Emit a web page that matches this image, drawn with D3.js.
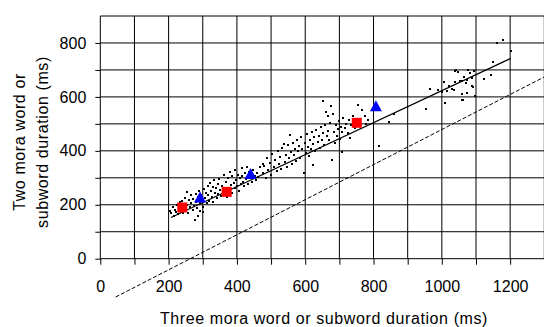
<!DOCTYPE html>
<html>
<head>
<meta charset="utf-8">
<script src="https://cdn.jsdelivr.net/npm/d3@7"></script>
<style>
  body { margin: 0; background: #fff; }
  text { font-family: "Liberation Sans", Arial, sans-serif; fill: #000; }
</style>
</head>
<body>
<div id="chart"></div>
<script>
var width = 544, height = 327;

// axis ticks (ms)
var xTicks = [0, 200, 400, 600, 800, 1000, 1200];
var yTicks = [0, 200, 400, 600, 800];

// individual word / subword pairs [three mora, two mora]
var dots = [
  [205,178],[208,168],[212,190],[215,160],[218,182],[222,172],[225,200],[228,165],[230,185],[233,210],
  [236,175],[238,195],[240,215],[243,170],[245,188],[248,225],[250,180],[253,248],[255,200],[258,170],
  [260,218],[262,190],[265,235],[267,205],[270,180],[272,222],[275,195],[277,143],[279,240],[281,210],
  [283,188],[285,228],[287,160],[289,250],[291,205],[293,178],[296,238],[298,215],[300,192],
  [302,174],[304,260],[306,225],[309,245],[311,205],[314,270],[316,235],[319,215],[321,282],[324,250],
  [326,228],[329,265],[331,212],[334,290],[336,245],[339,262],[341,225],[344,278],[346,240],[349,295],
  [351,255],[354,232],[357,270],[359,248],
  [362,310],[364,236],[367,285],[369,262],[372,230],[375,298],[377,255],[380,320],[382,272],[385,245],
  [387,305],[390,282],[393,262],[395,330],[398,290],[400,268],[403,312],[405,250],[408,298],[411,278],
  [414,335],[416,305],[419,285],[421,268],[424,318],[427,295],[430,340],[432,278],[436,322],[439,300],
  [443,285],[447,330],[452,305],[455,290],[458,318],[462,304],[468,341],[477,353],
  [475,318],[480,345],[484,300],[488,372],[492,330],[497,355],[500,310],[504,390],[508,340],[512,365],
  [516,325],[519,400],[522,350],[526,378],[529,332],[533,410],[537,427],[540,360],[543,385],[546,340],
  [549,420],[552,372],[555,458],[558,395],[561,350],[564,430],[567,385],[570,405],[573,362],[576,440],
  [579,398],[582,418],[585,375],[588,450],[591,405],[595,316],[598,430],[601,392],[604,462],[607,415],
  [610,380],[613,440],[616,405],[619,470],[622,425],[624,347],[627,452],[630,400],[633,478],[636,432],
  [639,455],[642,410],[645,488],[648,440],[651,465],[653,584],[656,420],[659,495],[661,544],[663,454],
  [666,475],[667,530],[670,440],[673,505],[676,565],[678,366],[680,538],[683,470],[686,430],[689,495],
  [692,455],[695,480],[698,510],[701,445],[704,490],[708,470],[709,396],[712,520],[716,485],[720,500],
  [724,465],[728,515],[731,447],[735,495],[740,530],[745,485],[755,569],[760,500],[767,551],[776,530],
  [778,499],[785,515],[817,417],[844,506],[861,535],
  [953,554],[966,631],[990,627],[1000,620],[1008,578],[1007,656],[1015,621],[1020,640],[1029,631],[1035,625],
  [1039,656],[1042,699],[1039,696],[1047,693],[1054,659],[1058,658],[1059,588],[1060,611],[1063,590],[1066,674],
  [1070,653],[1073,615],[1073,664],[1078,700],[1083,687],[1088,640],[1088,670],[1093,696],[1090,637],[1098,603],
  [1122,666],[1144,683],[1151,729],[1161,800],[1180,812],[1203,769]
];

// group means
var squares = [[240,190],[370,248],[751,504]];
var triangles = [[292,227],[440,314],[807,565]];

// regression line and reference (dashed) line end points
var fitLine = [[207,153],[1202,743]];
var refLine = [[45,-142],[1300,674]];

var x = d3.scaleLinear().domain([0, 1300]).range([100.3, 544.3]);
var y = d3.scaleLinear().domain([0, 900]).range([258.7, 16]);

var svg = d3.select("#chart").append("svg")
    .attr("width", width)
    .attr("height", height);

// grid
var grid = svg.append("g").attr("stroke", "#000").attr("stroke-width", 1);
grid.selectAll(".v")
  .data(d3.range(0, 1301, 100))
  .enter().append("line")
    .attr("x1", function(d) { return x(d); })
    .attr("x2", function(d) { return x(d); })
    .attr("y1", y(0))
    .attr("y2", y(900));
grid.selectAll(".h")
  .data(d3.range(0, 901, 100))
  .enter().append("line")
    .attr("x1", x(0))
    .attr("x2", x(1300))
    .attr("y1", function(d) { return y(d); })
    .attr("y2", function(d) { return y(d); });

// axes
var xAxis = d3.axisBottom(x).tickValues(d3.range(0, 1301, 100)).tickSize(6).tickSizeOuter(0)
    .tickFormat(function(d) { return xTicks.indexOf(d) >= 0 ? d : ""; });
var yAxis = d3.axisLeft(y).tickValues(d3.range(0, 801, 100)).tickSize(5).tickSizeOuter(0)
    .tickFormat(function(d) { return yTicks.indexOf(d) >= 0 ? d : ""; });

var gx = svg.append("g").attr("transform", "translate(0," + y(0) + ")").call(xAxis);
gx.select(".domain").remove();
gx.selectAll("text").attr("dy", null).attr("y", 33).attr("font-size", 16).style("font-family", null);

var gy = svg.append("g").attr("transform", "translate(" + x(0) + ",0)").call(yAxis);
gy.select(".domain").remove();
gy.selectAll("text").attr("x", -14).attr("font-size", 16).style("font-family", null);

// dashed reference line
svg.append("line")
  .attr("x1", x(refLine[0][0])).attr("y1", y(refLine[0][1]))
  .attr("x2", x(refLine[1][0])).attr("y2", y(refLine[1][1]))
  .attr("stroke", "#000").attr("stroke-width", 1).attr("stroke-dasharray", "4,2");

// regression line
svg.append("line")
  .attr("x1", x(fitLine[0][0])).attr("y1", y(fitLine[0][1]))
  .attr("x2", x(fitLine[1][0])).attr("y2", y(fitLine[1][1]))
  .attr("stroke", "#000").attr("stroke-width", 1.2);

// dots
svg.append("g").selectAll("rect")
  .data(dots)
  .enter().append("rect")
    .attr("x", function(d) { return Math.round(x(d[0])) - 1; })
    .attr("y", function(d) { return Math.round(y(d[1])) - 1; })
    .attr("width", 2)
    .attr("height", 2)
    .attr("fill", "#000");

svg.append("g").selectAll("rect")
  .data(squares)
  .enter().append("rect")
    .attr("x", function(d) { return x(d[0]) - 5; })
    .attr("y", function(d) { return y(d[1]) - 5; })
    .attr("width", 10)
    .attr("height", 10)
    .attr("fill", "#ff0000");

svg.append("g").selectAll("path")
  .data(triangles)
  .enter().append("path")
    .attr("transform", function(d) { return "translate(" + x(d[0]) + "," + y(d[1]) + ")"; })
    .attr("d", "M0,-6 L6,5 L-6,5 Z")
    .attr("fill", "#0000ff");

// titles
svg.append("text")
  .attr("x", 324).attr("y", 324)
  .attr("text-anchor", "middle")
  .attr("font-size", 16)
  .attr("letter-spacing", 0.6)
  .text("Three mora word or subword duration (ms)");

var yt = svg.append("text")
  .attr("transform", "translate(0,142) rotate(-90)")
  .attr("text-anchor", "middle")
  .attr("font-size", 16)
  .attr("letter-spacing", 0.6);
yt.append("tspan").attr("x", 0).attr("y", 25).text("Two mora word or");
yt.append("tspan").attr("x", 0).attr("y", 48).text("subword duration (ms)");
</script>
</body>
</html>
